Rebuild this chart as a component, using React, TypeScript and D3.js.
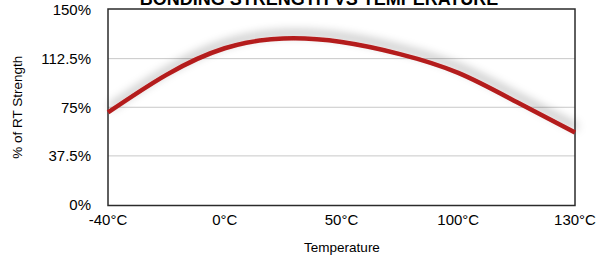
import React, { useEffect, useRef } from "react";
import * as d3 from "d3";

// axis categories (evenly spaced on the chart)
const tickTemps = [-40, 0, 50, 100, 130];
const tickLabels = ["-40°C", "0°C", "50°C", "100°C", "130°C"];
const yTicks = [0, 37.5, 75, 112.5, 150];
const yTickLabels = ["0%", "37.5%", "75%", "112.5%", "150%"];

// curve samples
const temps = [-40, -20, 0, 25, 50, 75, 100, 115, 130];
const strength = [71, 100, 120.5, 128, 125.3, 116, 101.5, 79, 55.5];

const title = "BONDING STRENGTH VS TEMPERATURE";
const font = "Helvetica, Arial, 'Liberation Sans', sans-serif";

export default function App() {
  const ref = useRef<SVGSVGElement>(null);

  useEffect(() => {
    const svg = d3.select(ref.current);
    svg.selectAll("*").remove();

    const left = 108, right = 575, top = 9, bottom = 205.5;
    const step = (right - left) / (tickTemps.length - 1);

    const x = d3.scaleLinear()
      .domain(tickTemps)
      .range(tickTemps.map((_, i) => left + i * step));
    const y = d3.scaleLinear().domain([0, 150]).range([204.5, 10]);

    const defs = svg.append("defs");
    const f = defs.append("filter")
      .attr("id", "shadow")
      .attr("x", "-20%").attr("y", "-60%")
      .attr("width", "140%").attr("height", "220%");
    f.append("feGaussianBlur").attr("in", "SourceAlpha").attr("stdDeviation", 5).attr("result", "b");
    f.append("feOffset").attr("in", "b").attr("dx", 2).attr("dy", -5).attr("result", "o");
    f.append("feFlood").attr("flood-color", "#000").attr("flood-opacity", 0.35);
    f.append("feComposite").attr("in2", "o").attr("operator", "in").attr("result", "s");
    const m = f.append("feMerge");
    m.append("feMergeNode").attr("in", "s");
    m.append("feMergeNode").attr("in", "SourceGraphic");

    // title, clipped by the top of the window as in the original
    svg.append("text")
      .attr("x", 319).attr("y", 5)
      .attr("text-anchor", "middle")
      .style("font-family", font).style("font-weight", "bold").style("font-size", "18px")
      .text(title);

    // gridlines
    svg.selectAll(".grid")
      .data(yTicks.slice(1, -1))
      .join("line")
      .attr("class", "grid")
      .attr("x1", left).attr("x2", right)
      .attr("y1", d => y(d)).attr("y2", d => y(d))
      .attr("stroke", "#c8c8c8").attr("stroke-width", 1);

    // frame
    svg.append("rect")
      .attr("x", left).attr("y", top)
      .attr("width", right - left).attr("height", bottom - top)
      .attr("fill", "none").attr("stroke", "#2b2b2b").attr("stroke-width", 1.5);

    // y labels
    svg.selectAll(".ylab")
      .data(yTicks)
      .join("text")
      .attr("class", "ylab")
      .attr("x", 91).attr("y", d => y(d))
      .attr("dy", "0.36em")
      .attr("text-anchor", "end")
      .style("font-family", font).style("font-size", "15px")
      .text((d, i) => yTickLabels[i]);

    // x labels
    svg.selectAll(".xlab")
      .data(tickTemps)
      .join("text")
      .attr("class", "xlab")
      .attr("x", d => x(d)).attr("y", 225)
      .attr("text-anchor", "middle")
      .style("font-family", font).style("font-size", "15px")
      .text((d, i) => tickLabels[i]);

    svg.append("text")
      .attr("x", 342).attr("y", 252)
      .attr("text-anchor", "middle")
      .style("font-family", font).style("font-size", "13.5px")
      .text("Temperature");

    svg.append("text")
      .attr("transform", `translate(22, ${(top + bottom) / 2}) rotate(-90)`)
      .attr("text-anchor", "middle")
      .style("font-family", font).style("font-size", "13.5px")
      .text("% of RT Strength");

    const line = d3.line<number>()
      .x((d, i) => x(temps[i]))
      .y(d => y(d))
      .curve(d3.curveNatural);

    svg.append("path")
      .datum(strength)
      .attr("d", line)
      .attr("fill", "none")
      .attr("stroke", "#b41c1c")
      .attr("stroke-width", 4.5)
      .attr("filter", "url(#shadow)");
  }, []);

  return (
    <svg ref={ref} width={605} height={260}
      style={{ position: "absolute", left: 0, top: 0, background: "#fff" }} />
  );
}
